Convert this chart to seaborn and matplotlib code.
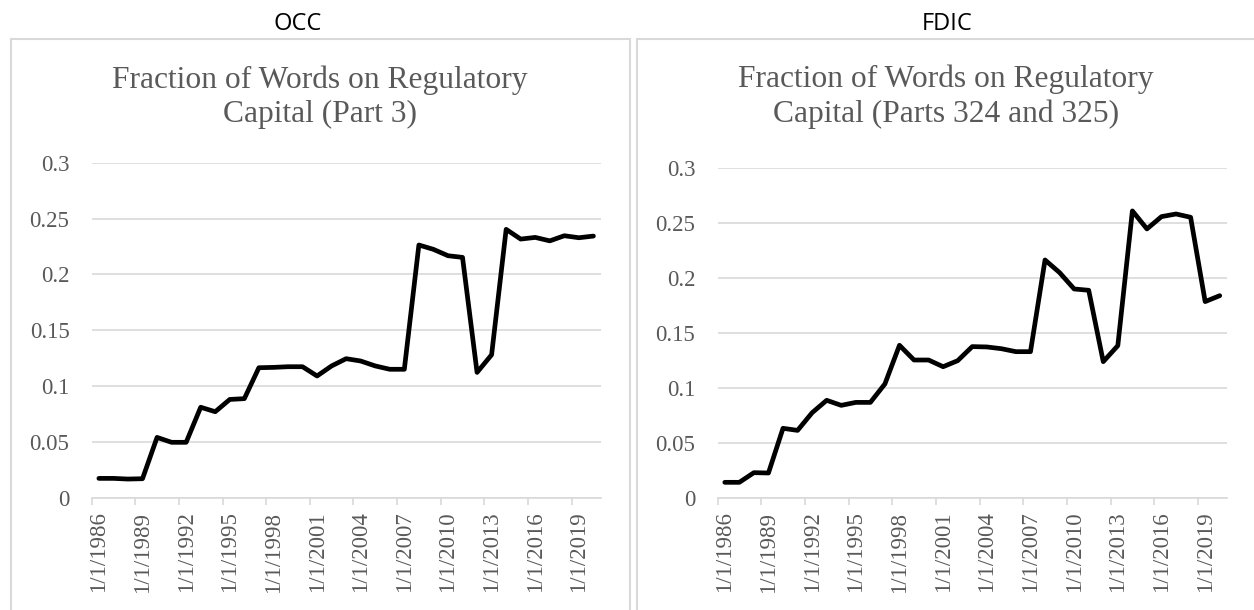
import pandas as pd
import matplotlib.pyplot as plt
import seaborn as sns
from matplotlib.patches import Rectangle

# yearly data 1986..2020
years = list(range(1986, 2021))

occ_share = [0.0173, 0.0173, 0.0167, 0.0170, 0.0540, 0.0496, 0.0496, 0.0810, 0.0770, 0.0880,
             0.0887, 0.1164, 0.1167, 0.1173, 0.1173, 0.1090, 0.1180, 0.1245, 0.1224, 0.1180,
             0.1150, 0.1150, 0.2263, 0.2224, 0.2167, 0.2152, 0.1122, 0.1280, 0.2403, 0.2316,
             0.2331, 0.2300, 0.2346, 0.2328, 0.2343]

fdic_share = [0.0140, 0.0140, 0.0228, 0.0225, 0.0632, 0.0613, 0.0774, 0.0887, 0.0841, 0.0868,
              0.0868, 0.1036, 0.1388, 0.1254, 0.1254, 0.1193, 0.1248, 0.1376, 0.1373, 0.1357,
              0.1330, 0.1330, 0.2165, 0.2050, 0.1901, 0.1889, 0.1239, 0.1385, 0.2612, 0.2448,
              0.2560, 0.2584, 0.2554, 0.1786, 0.1840]

tick_years = [1986, 1989, 1992, 1995, 1998, 2001, 2004, 2007, 2010, 2013, 2016, 2019]
tick_labels = ["1/1/1986", "1/1/1989", "1/1/1992", "1/1/1995", "1/1/1998", "1/1/2001",
               "1/1/2004", "1/1/2007", "1/1/2010", "1/1/2013", "1/1/2016", "1/1/2019"]
y_ticks = [0, 0.05, 0.1, 0.15, 0.2, 0.25, 0.3]
y_labels = ["0", "0.05", "0.1", "0.15", "0.2", "0.25", "0.3"]

panels = ["OCC", "FDIC"]
titles = ["Fraction of Words on Regulatory\nCapital (Part 3)",
          "Fraction of Words on Regulatory\nCapital (Parts 324 and 325)"]

sns.set_theme(style="white")
plt.rcParams['font.family'] = ['Liberation Serif', 'DejaVu Serif']

W, H = 1254, 610
fig = plt.figure(figsize=(W / 100, H / 100), dpi=100)


def px_axes(x0, x1, y_top, y_bot):
    return fig.add_axes([x0 / W, 1 - y_bot / H, (x1 - x0) / W, (y_bot - y_top) / H])


grey_txt = '#595959'
light = '#d9d9d9'

# panel frames
for x0, x1 in [(11, 630), (637, 1262)]:
    fig.add_artist(Rectangle((x0 / W, -0.05), (x1 - x0) / W, 1.05 - 39 / H,
                             transform=fig.transFigure, fill=False,
                             edgecolor=light, linewidth=1.5))

ax1 = px_axes(91.6, 600.7, 162.7, 497.7)
ax2 = px_axes(717.5, 1227.0, 168.3, 497.7)

for ax, vals in [(ax1, occ_share), (ax2, fdic_share)]:
    df = pd.DataFrame({'year': years, 'share': vals})
    sns.lineplot(data=df, x='year', y='share', ax=ax, color='black', linewidth=3.4,
                 solid_capstyle='round', solid_joinstyle='round', zorder=3)
    ax.set_xlim(years[0] - 0.5, years[-1] + 0.5)
    ax.set_ylim(0, 0.3)
    ax.set_yticks(y_ticks)
    ax.set_yticklabels(y_labels)
    ax.set_xticks(tick_years)
    ax.set_xticklabels(tick_labels, rotation=90)
    ax.set_xticks([y - 0.5 for y in tick_years], minor=True)
    ax.grid(axis='y', color=light, linewidth=1.2)
    ax.grid(axis='x', visible=False)
    ax.tick_params(axis='x', which='major', length=0, pad=10, labelsize=16.5, labelcolor=grey_txt)
    ax.tick_params(axis='x', which='minor', bottom=True, length=5, width=1.2, color=light)
    ax.tick_params(axis='y', length=0, pad=16, labelsize=16.5, labelcolor=grey_txt)
    for s in ['top', 'right', 'left']:
        ax.spines[s].set_visible(False)
    ax.spines['bottom'].set_color(light)
    ax.spines['bottom'].set_linewidth(1.2)
    ax.set_xlabel('')
    ax.set_ylabel('')
    ax.set_facecolor('none')

# chart titles (baseline of the last line) and panel labels
for cx, title in zip([320, 946], titles):
    fig.text(cx / W, 1 - 121.7 / H, title, ha='center', va='baseline', fontsize=22.7,
             color=grey_txt, linespacing=1.23)

for cx, name in zip([298, 947], panels):
    fig.text(cx / W, 1 - 30 / H, name, ha='center', va='baseline', fontsize=17,
             family=['Open Sans', 'DejaVu Sans'], color='black')

fig.savefig('out.png', dpi=100)
